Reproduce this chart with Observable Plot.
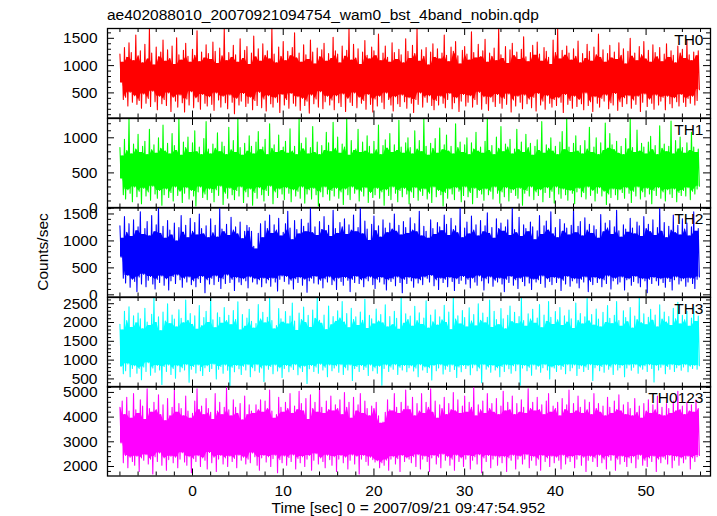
<!DOCTYPE html>
<html><head><meta charset="utf-8">
<script src="https://cdn.jsdelivr.net/npm/d3@7"></script>
<script src="https://cdn.jsdelivr.net/npm/@observablehq/plot@0.6"></script>
<style>
body{margin:0;background:#fff;font-family:"Liberation Sans",Arial,sans-serif;}
#chart{position:relative;width:717px;height:516px;overflow:hidden;background:#fff;}
.lbl{position:absolute;font-size:15.5px;line-height:15px;color:#000;white-space:nowrap;}
#chart svg{position:absolute;left:0;overflow:visible;}
</style></head><body><div id="chart"></div>
<script>
const title = "ae402088010_20070921094754_wam0_bst_4band_nobin.qdp";
const xLabel = "Time [sec] 0 = 2007/09/21 09:47:54.952";
const yLabel = "Counts/sec";
const panelNames = ["TH0","TH1","TH2","TH3","TH0123"];
const colors = ["#ff0000","#00ff00","#0000ff","#00ffff","#ff00ff"];
const tStart = -8, binWidth = 0.125;

const th0 = [1210,690,1060,380,1330,420,1150,260,1420,510,1240,330,1090,450,1560,290,
1180,360,1270,220,1050,480,1390,310,1120,400,1680,250,1230,530,1010,340,
1340,190,1160,440,1250,300,1470,380,1080,270,1290,500,1130,160,1360,420,
1020,350,1510,240,1200,460,1100,320,1280,150,1410,390,1170,280,1060,520,
1300,230,1190,410,1640,340,1070,200,1250,470,1140,310,1380,260,1220,430,
1110,290,1430,180,1260,500,1040,370,1320,240,1180,440,1680,320,1090,210,
1240,460,1150,330,1370,120,1200,400,1060,280,1490,350,1130,490,1280,250,
1350,310,1020,420,1230,190,1540,360,1160,270,1310,510,1080,230,1400,390,
1190,170,1270,450,1120,300,1680,240,1210,410,1050,330,1340,140,1170,470,
1440,280,1090,380,1260,220,1180,490,1330,310,1600,260,1140,430,1230,180,
1060,400,1380,270,1200,350,1110,130,1470,460,1250,300,1030,390,1320,240,
1160,520,1290,210,1410,340,1080,440,1220,280,1130,370,1520,190,1270,450,
1210,320,1050,250,1360,480,1170,160,1280,400,1680,330,1100,270,1390,500,
1140,230,1310,420,1020,310,1250,360,1460,200,1190,470,1120,290,1340,150,
1270,390,1180,260,1580,440,1090,330,1230,210,1360,500,1150,380,1060,280,
1420,170,1240,430,1110,300,1300,250,1200,460,1050,340,1490,220,1260,410,
1130,310,1370,140,1220,380,1680,290,1080,500,1290,240,1170,420,1330,330,
1010,450,1250,270,1400,190,1150,360,1310,280,1120,440,1230,310,1560,230,
1190,380,1070,490,1340,210,1260,320,1440,410,1180,160,1030,350,1280,470,
1350,260,1210,330,1100,450,1620,240,1240,380,1140,290,1390,510,1160,200,
1270,430,1480,300,1060,180,1230,420,1170,340,1320,250,1090,470,1680,310,
1200,220,1130,400,1350,290,1040,480,1290,150,1410,370,1180,260,1250,440,
1110,330,1300,210,1530,460,1160,300,1070,390,1240,230,1370,420,1190,170,
1430,490,1210,280,1080,350,1330,200,1260,450,1150,310,1020,240,1470,380,
1240,270,1680,410,1120,330,1280,140,1190,470,1360,290,1230,360,1100,220,
1310,440,1170,250,1450,380,1050,300,1220,190,1130,500,1390,270,1260,340,
1080,160,1340,430,1200,310,1580,240,1150,400,1290,350,1060,460,1220,210,
1370,320,1140,280,1250,490,1110,180,1420,340,1190,250,1310,410,1030,300,
1260,450,1500,220,1170,370,1230,290,1090,440,1350,160,1200,330,1440,480,
1120,250,1280,390,1060,310,1380,200,1240,460,1160,280,1330,350,1070,420,
1210,190,1400,440,1150,300,1270,230,1190,410,1050,340,1360,260,1230,470,
1300,330,1130,250,1470,400,1200,310,1090,440,1250,280,1180,360,1270,560];

const th1 = [860,420,740,190,980,130,820,260,1270,210,770,90,910,300,840,160,
1050,240,790,60,880,280,950,170,760,230,1120,110,830,310,900,200,
780,140,1000,250,850,40,1180,190,810,270,920,150,770,220,1060,100,
890,300,820,180,1270,240,750,80,940,210,860,290,1010,130,790,250,
930,170,1100,30,800,230,870,300,760,150,990,200,1230,120,840,270,
770,220,910,90,850,260,1070,180,800,310,940,50,880,210,760,140,
1150,280,830,190,960,120,790,250,1270,170,860,300,750,80,920,230,
810,160,1030,270,880,40,770,220,940,140,1090,290,830,190,870,100,
980,250,760,180,1200,310,850,60,900,230,790,150,1040,270,820,200,
870,120,950,290,780,210,1130,90,810,260,880,170,760,240,1270,140,
920,300,840,70,1000,200,770,260,860,130,1160,280,790,190,940,30,
760,230,890,160,820,300,1080,200,930,110,800,250,1220,170,850,280,
1010,140,780,230,910,50,870,270,1270,190,750,120,960,300,820,210,
840,260,1120,100,790,240,940,170,810,290,1030,80,880,220,770,150,
950,190,830,280,1180,140,760,230,890,40,970,260,850,180,1060,120,
790,300,900,210,820,90,1250,250,870,160,780,280,930,200,1000,60,
860,230,770,150,1100,290,840,110,960,240,800,180,1270,270,880,130,
750,210,920,80,850,300,990,160,780,250,1140,190,830,30,900,220,
1040,140,810,270,880,200,770,120,1200,290,860,240,940,90,790,180,
900,300,1000,160,760,220,930,60,840,280,1080,150,810,250,870,200,
780,110,950,270,1270,190,820,240,890,130,760,300,1010,210,850,70,
1160,230,800,160,910,290,870,100,980,220,770,260,840,180,1120,140,
830,280,940,40,790,210,1050,250,860,170,920,300,750,120,880,230,
970,180,820,260,1230,90,780,220,900,290,850,150,1000,240,810,70,
880,300,760,200,940,140,1090,270,830,190,1270,110,870,250,790,210,
920,60,1030,230,810,280,890,160,770,220,960,130,840,300,1150,180,
790,250,870,100,1000,210,760,290,930,170,820,240,1210,50,850,200,
1060,150,900,270,830,190,950,120,780,260,880,220,760,140,990,290,
840,210,1270,80,860,240,790,170,1110,300,810,130,920,230,870,160,
770,280,940,200,1020,60,830,250,890,180,760,290,1170,140,850,230,
910,100,800,260,880,200,1240,150,770,270,960,90,840,220,1010,180,
860,250,780,170,930,290,820,120,1080,240,870,200,790,270,840,310];

const th2 = [1280,700,1050,310,1450,220,1160,360,1320,140,1080,290,1390,250,1190,60,
1260,330,1540,200,1120,380,1230,150,1360,270,1090,340,1470,200,1170,110,
1300,290,1620,230,1140,350,1270,180,1050,300,1380,90,1200,260,1110,340,
1330,210,1000,370,1250,280,1470,140,1160,310,1290,240,1060,330,1420,190,
1180,260,1340,150,1110,300,1500,230,1230,340,1130,40,1280,280,1060,200,
1410,310,1150,190,1290,350,1070,250,1600,120,1220,300,1170,210,1310,370,
1100,230,1440,290,1200,80,1260,320,1130,240,1350,190,1040,300,1180,260,
1290,130,1250,330,1180,240,900,300,850,200,1140,280,1320,150,1060,310,
1370,220,1230,280,1480,160,1140,310,1300,240,1200,70,1420,290,1090,350,
1160,250,1320,340,1550,200,1240,270,1020,110,1380,300,1210,230,1130,320,
1400,180,1270,290,1170,50,1330,260,1620,310,1150,220,1260,340,1100,200,
1360,270,1210,130,1450,300,1190,240,1290,330,1080,190,1570,260,1230,100,
1140,310,1340,250,1260,180,1410,320,1120,270,1300,60,1200,290,1480,230,
1170,340,1250,210,1620,280,1130,150,1370,300,1220,260,1010,330,1310,190,
1460,120,1190,290,1280,240,1070,320,1390,200,1240,90,1150,280,1330,250,
1220,300,1500,170,1180,330,1290,230,1110,40,1360,290,1250,210,1140,320,
1430,260,1200,140,1320,300,1170,220,1550,280,1090,190,1270,330,1180,310,
1050,240,1390,360,1230,170,1120,280,1340,100,1260,310,1190,230,1480,290,
1310,150,1100,320,1420,250,1210,80,1280,300,1150,210,1620,270,1060,340,
1240,200,1350,290,1130,130,1460,310,1200,240,1300,180,1090,350,1380,260,
1170,90,1280,300,1520,220,1140,330,1250,160,1050,270,1410,240,1230,310,
1330,200,1180,60,1260,290,1390,230,1100,340,1620,180,1210,280,1150,120,
1440,310,1080,250,1300,170,1230,330,1170,220,1350,100,1260,290,1020,240,
1190,280,1470,210,1120,350,1280,140,1370,300,1200,250,1540,190,1130,320,
1250,230,1060,310,1400,80,1180,270,1320,200,1240,340,1110,160,1290,260,
1600,300,1150,220,1270,130,1360,290,1090,240,1430,330,1200,60,1310,250,
1140,190,1280,320,1210,230,1050,300,1490,150,1170,280,1330,210,1240,350,
1380,110,1120,260,1260,310,1570,200,1190,240,1070,330,1300,90,1220,280,
1160,300,1420,180,1240,250,1130,340,1350,220,1280,150,1080,300,1450,260,
1230,40,1310,290,1170,210,1390,320,1100,260,1250,180,1620,300,1180,230,
1340,140,1060,310,1270,250,1200,90,1480,280,1150,330,1290,200,1110,260,
1410,300,1220,160,1330,240,1090,310,1260,210,1540,120,1180,290,1230,330];

const th3 = [1950,830,1800,640,2300,720,2050,900,2420,560,1870,780,2180,850,1990,650,
2250,780,2100,480,1830,820,2380,700,2010,930,1920,600,2220,790,2660,680,
2000,860,2150,740,1780,350,2280,830,2040,700,2500,870,1970,620,2200,780,
2090,520,1880,850,2340,690,2110,800,1990,740,2600,880,2060,410,2240,760,
1950,830,2180,660,1820,870,2450,720,1910,590,2130,800,2300,850,2000,700,
2660,780,2070,890,1860,500,2260,760,2140,830,1980,650,2400,870,2050,730,
2190,300,1940,810,2320,690,2080,860,2550,770,1800,620,2210,840,1900,740,
2120,880,2350,560,2030,800,1850,720,1970,880,2480,680,2090,790,2270,430,
1990,850,2140,760,2660,830,2050,640,1830,870,1920,710,2370,800,2100,540,
2010,780,2290,860,1960,690,2170,820,2520,750,2040,880,1790,610,2250,790,
2080,700,2410,840,2000,380,2190,770,1870,860,2330,700,2110,820,2660,650,
2060,890,1980,740,2200,810,1810,560,2440,870,1940,720,2160,790,2030,850,
2310,680,2120,880,2560,620,2010,800,2240,740,1860,870,2380,460,2080,780,
2150,830,1920,700,2280,860,2060,750,2620,810,1840,590,2190,870,2100,720,
1960,800,2360,650,2040,840,2210,330,1990,780,2470,870,1880,700,2160,820,
1940,760,2300,880,2110,620,1820,810,2660,740,1980,860,2230,690,2080,800,
2170,850,1900,710,2430,790,2050,560,2260,880,1950,740,2120,820,2580,670,
1850,800,2200,470,2020,860,2340,720,1930,790,2150,880,2070,630,2460,760,
2000,840,2280,700,1810,870,2660,750,2090,540,2180,820,1960,690,2320,860,
2130,780,1880,850,2390,610,2040,800,2210,870,1910,720,2500,790,2060,400,
2250,880,1990,760,2140,820,2600,680,1870,860,2300,740,2080,800,1940,560,
2370,830,2100,700,1830,870,2190,770,2440,650,2020,850,2270,720,1970,880,
2160,330,2660,790,2050,860,1900,720,2230,810,2090,600,2350,870,1980,760,
2120,840,2480,680,1860,800,2200,880,2030,740,2560,500,2140,820,1950,790,
2290,700,2070,860,2400,760,1920,830,2180,640,2010,880,2330,720,2100,800,
1840,870,2520,590,2060,780,2240,850,1960,700,2150,820,2640,750,2040,880,
2210,460,1930,800,2360,860,2090,720,1880,830,2270,680,2000,870,2450,760,
2110,820,1970,620,2190,880,2560,740,2050,800,1900,860,2310,560,2130,790,
2020,870,2400,730,1850,810,2170,880,2080,650,2660,820,1990,760,2230,850,
1940,700,2140,880,2350,780,2060,420,2200,860,1880,740,2470,810,2090,870,
2280,640,2010,830,2160,760,1920,880,2380,700,2100,800,2540,860,1960,730,
2190,820,2070,880,2300,690,1900,840,2120,780,2420,860,2030,760,2170,850];

const th0123 = [4400,2950,4650,2150,4100,2450,4800,1950,4250,2380,3950,2200,4950,2050,4300,2420,
4150,1800,4700,2350,4450,2250,3900,2480,5150,2100,4350,2300,4200,1700,4600,2400,
4300,2200,4900,2550,4100,2050,4500,2350,3850,1850,4750,2280,4050,2420,4400,2150,
5100,2380,4200,1950,4550,2300,4350,2560,4050,2180,4850,2050,4250,2400,3950,1750,
4150,2320,4650,2200,5150,2440,4300,2000,4450,2350,4100,2250,4750,1900,4350,2570,
4200,2150,3900,2380,4950,1800,4250,2300,4600,2450,4100,2100,4400,2350,5200,2000,
4300,2420,4050,2200,4700,2330,4400,1950,4150,2460,4550,2250,3880,2380,4850,2100,
4100,2300,4500,2150,4250,2550,4150,2400,4500,2050,4300,1850,4700,2350,4200,2450,
4650,2180,4350,2400,5100,2000,4250,2320,3950,2460,4100,1750,4800,2280,4400,2150,
4200,2430,4600,2050,4350,2360,4950,2200,4150,2470,4450,1900,4300,2330,5050,2150,
4550,2400,4250,2000,4750,2300,3900,2450,4900,1850,4350,2250,4600,2520,4200,2100,
5200,2350,4400,2200,4150,1950,4650,2460,4300,2280,4850,2050,4250,2400,4500,1800,
4350,2300,4700,2450,4100,2150,5000,2380,4400,1900,4600,2250,3950,2470,4800,2100,
4250,2420,4500,1700,4950,2300,4150,2450,4650,2200,4350,2050,4050,2380,4450,2280,
4350,2180,4600,2230,4050,1950,3750,2150,3800,2050,4200,2260,4700,1850,4300,2300,
4250,2400,4950,2100,4400,2320,4150,1800,4600,2450,4300,2200,5100,2350,4450,2300,
4300,2150,4800,2400,4050,2000,4550,2480,4250,1900,4950,2300,4150,2420,4600,2200,
4400,1800,5150,2350,4200,2450,4650,2100,3950,2380,4500,1950,4350,2500,4800,2250,
4100,2400,4550,2050,4300,2300,5000,1850,4250,2460,4700,2200,4150,2350,4450,2000,
4850,2300,4200,2450,4600,1900,4400,2250,5200,2400,4050,2100,4500,2480,4300,1750,
4650,2350,4150,2200,4950,2450,4350,1950,4550,2300,4200,2420,4750,2050,4100,2380,
4450,2150,5050,2400,4250,1800,4600,2350,4300,2250,4850,2460,4100,1900,4550,2300,
4200,2420,4700,2100,4400,2300,4150,2480,5150,1950,4350,2250,4600,2400,4250,2050,
4800,2300,4300,1850,4500,2450,4100,2200,4650,2350,4950,2000,4200,2420,4450,2150,
4350,2380,4600,2250,4050,1900,4750,2460,4300,2100,4500,2350,5100,2200,4150,2400,
4550,1950,4250,2300,4850,2450,4400,2050,4150,2380,4700,1800,4300,2250,4600,2420,
4100,2200,4950,2350,4350,2000,4550,2460,4200,2150,4450,2300,4050,1900,4800,2400,
4400,2250,4150,2450,4650,1850,4300,2300,4900,2100,4250,2420,4500,2200,4100,2000,
4600,2350,4350,2150,4050,2400,4750,1950,4200,2300,4450,2460,3950,2050,4550,2250,
4250,2000,4700,2350,4150,2200,4500,2420,4300,1800,4850,2300,4100,2150,4400,2380,
4050,2300,4550,2100,4350,2450,4150,1950,4650,2250,4250,2400,5050,2050,4300,2350,
4450,2150,4100,2300,4600,2420,4250,1900,4500,2350,4200,2200,4700,2400,4350,2450];

const series = [th0, th1, th2, th3, th0123];
const yDomains = [[40,1680],[0,1275],[-40,1620],[285,2665],[1615,5240]];
const yMajor = [[500,1000,1500],[0,500,1000],[0,500,1000,1500],[500,1000,1500,2000,2500],[2000,3000,4000,5000]];
const yMinorStep = [100,100,100,100,200];
const xDomain = [-9.37, 57.1];
const xMajor = [0,10,20,30,40,50];
const xMinorStep = 2;

const chart = document.getElementById("chart");
const W = 717, ML = 107, MR = 7, top0 = 28, ph = 89.5;
const innerW = W - ML - MR;
const font = "Liberation Sans, Arial, sans-serif";
const fs = 15.5;

function addLabel(text, css) {
  const d = document.createElement("div");
  d.className = "lbl";
  d.textContent = text;
  Object.assign(d.style, css);
  chart.appendChild(d);
}

const xMinor = d3.range(Math.ceil(xDomain[0] / xMinorStep) * xMinorStep, xDomain[1], xMinorStep).filter(d => !xMajor.includes(d));

series.forEach((vals, i) => {
  const data = vals.map((v, k) => ({t: tStart + k * binWidth, v}));
  // dense core of each panel: the band that neighbouring up/down swings all cover
  const pairs = d3.range(0, vals.length - 1, 2).map(j => ({t: tStart + (j + 0.5) * binWidth, hi: Math.max(vals[j], vals[j + 1]), lo: Math.min(vals[j], vals[j + 1])}));
  const core = pairs.map((p, j) => {
    const nb = pairs.slice(Math.max(0, j - 1), j + 2);
    return {t: p.t, y1: d3.max(nb, d => d.lo), y2: d3.min(nb, d => d.hi)};
  });
  const [y0, y1] = yDomains[i];
  const step = yMinorStep[i];
  const major = yMajor[i];
  const minor = d3.range(Math.ceil(y0 / step) * step, y1, step).filter(d => !major.includes(d));
  const svg = Plot.plot({
    width: W, height: ph + 2,
    marginLeft: ML, marginRight: MR, marginTop: 1, marginBottom: 1,
    x: {domain: xDomain, axis: null},
    y: {domain: yDomains[i], axis: null},
    style: {overflow: "visible", fontFamily: font, fontSize: fs + "px", background: "transparent"},
    marks: [
      Plot.areaY(core, {x: "t", y1: "y1", y2: "y2", fill: colors[i], clip: true}),
      Plot.line(data, {x: "t", y: "v", stroke: colors[i], strokeWidth: 1.1, clip: true}),
      Plot.tickY(major, {y: d => d, insetRight: innerW - 7, stroke: "#000"}),
      Plot.tickY(major, {y: d => d, insetLeft: innerW - 7, stroke: "#000"}),
      Plot.tickY(minor, {y: d => d, insetRight: innerW - 4, stroke: "#000"}),
      Plot.tickY(minor, {y: d => d, insetLeft: innerW - 4, stroke: "#000"}),
      Plot.tickX(xMajor, {x: d => d, insetBottom: ph - 7, stroke: "#000"}),
      Plot.tickX(xMajor, {x: d => d, insetTop: ph - 7, stroke: "#000"}),
      Plot.tickX(xMinor, {x: d => d, insetBottom: ph - 4, stroke: "#000"}),
      Plot.tickX(xMinor, {x: d => d, insetTop: ph - 4, stroke: "#000"}),
      Plot.text(major, {y: d => d, text: d => String(d), frameAnchor: "left", dx: -10, textAnchor: "end", fontSize: fs, fill: "#000"}),
      Plot.text([panelNames[i]], {text: d => d, frameAnchor: "top-right", dx: -7, dy: 5, lineAnchor: "top", textAnchor: "end", fontSize: fs, fill: "#000"}),
      Plot.frame({stroke: "#000", strokeWidth: 1.3}),
      i === series.length - 1 ? Plot.text(xMajor, {x: d => d, text: d => String(d), frameAnchor: "bottom", lineAnchor: "top", dy: 9, fontSize: fs, fill: "#000"}) : null
    ]
  });
  svg.style.top = (top0 - 1 + i * ph) + "px";
  chart.appendChild(svg);
});

addLabel(title, {left: "107px", top: "7px"});
addLabel(xLabel, {left: "408.5px", top: "500px", transform: "translateX(-50%)"});
addLabel(yLabel, {left: "42px", top: "252px", transform: "translate(-50%,-50%) rotate(-90deg)"});
</script></body></html>
